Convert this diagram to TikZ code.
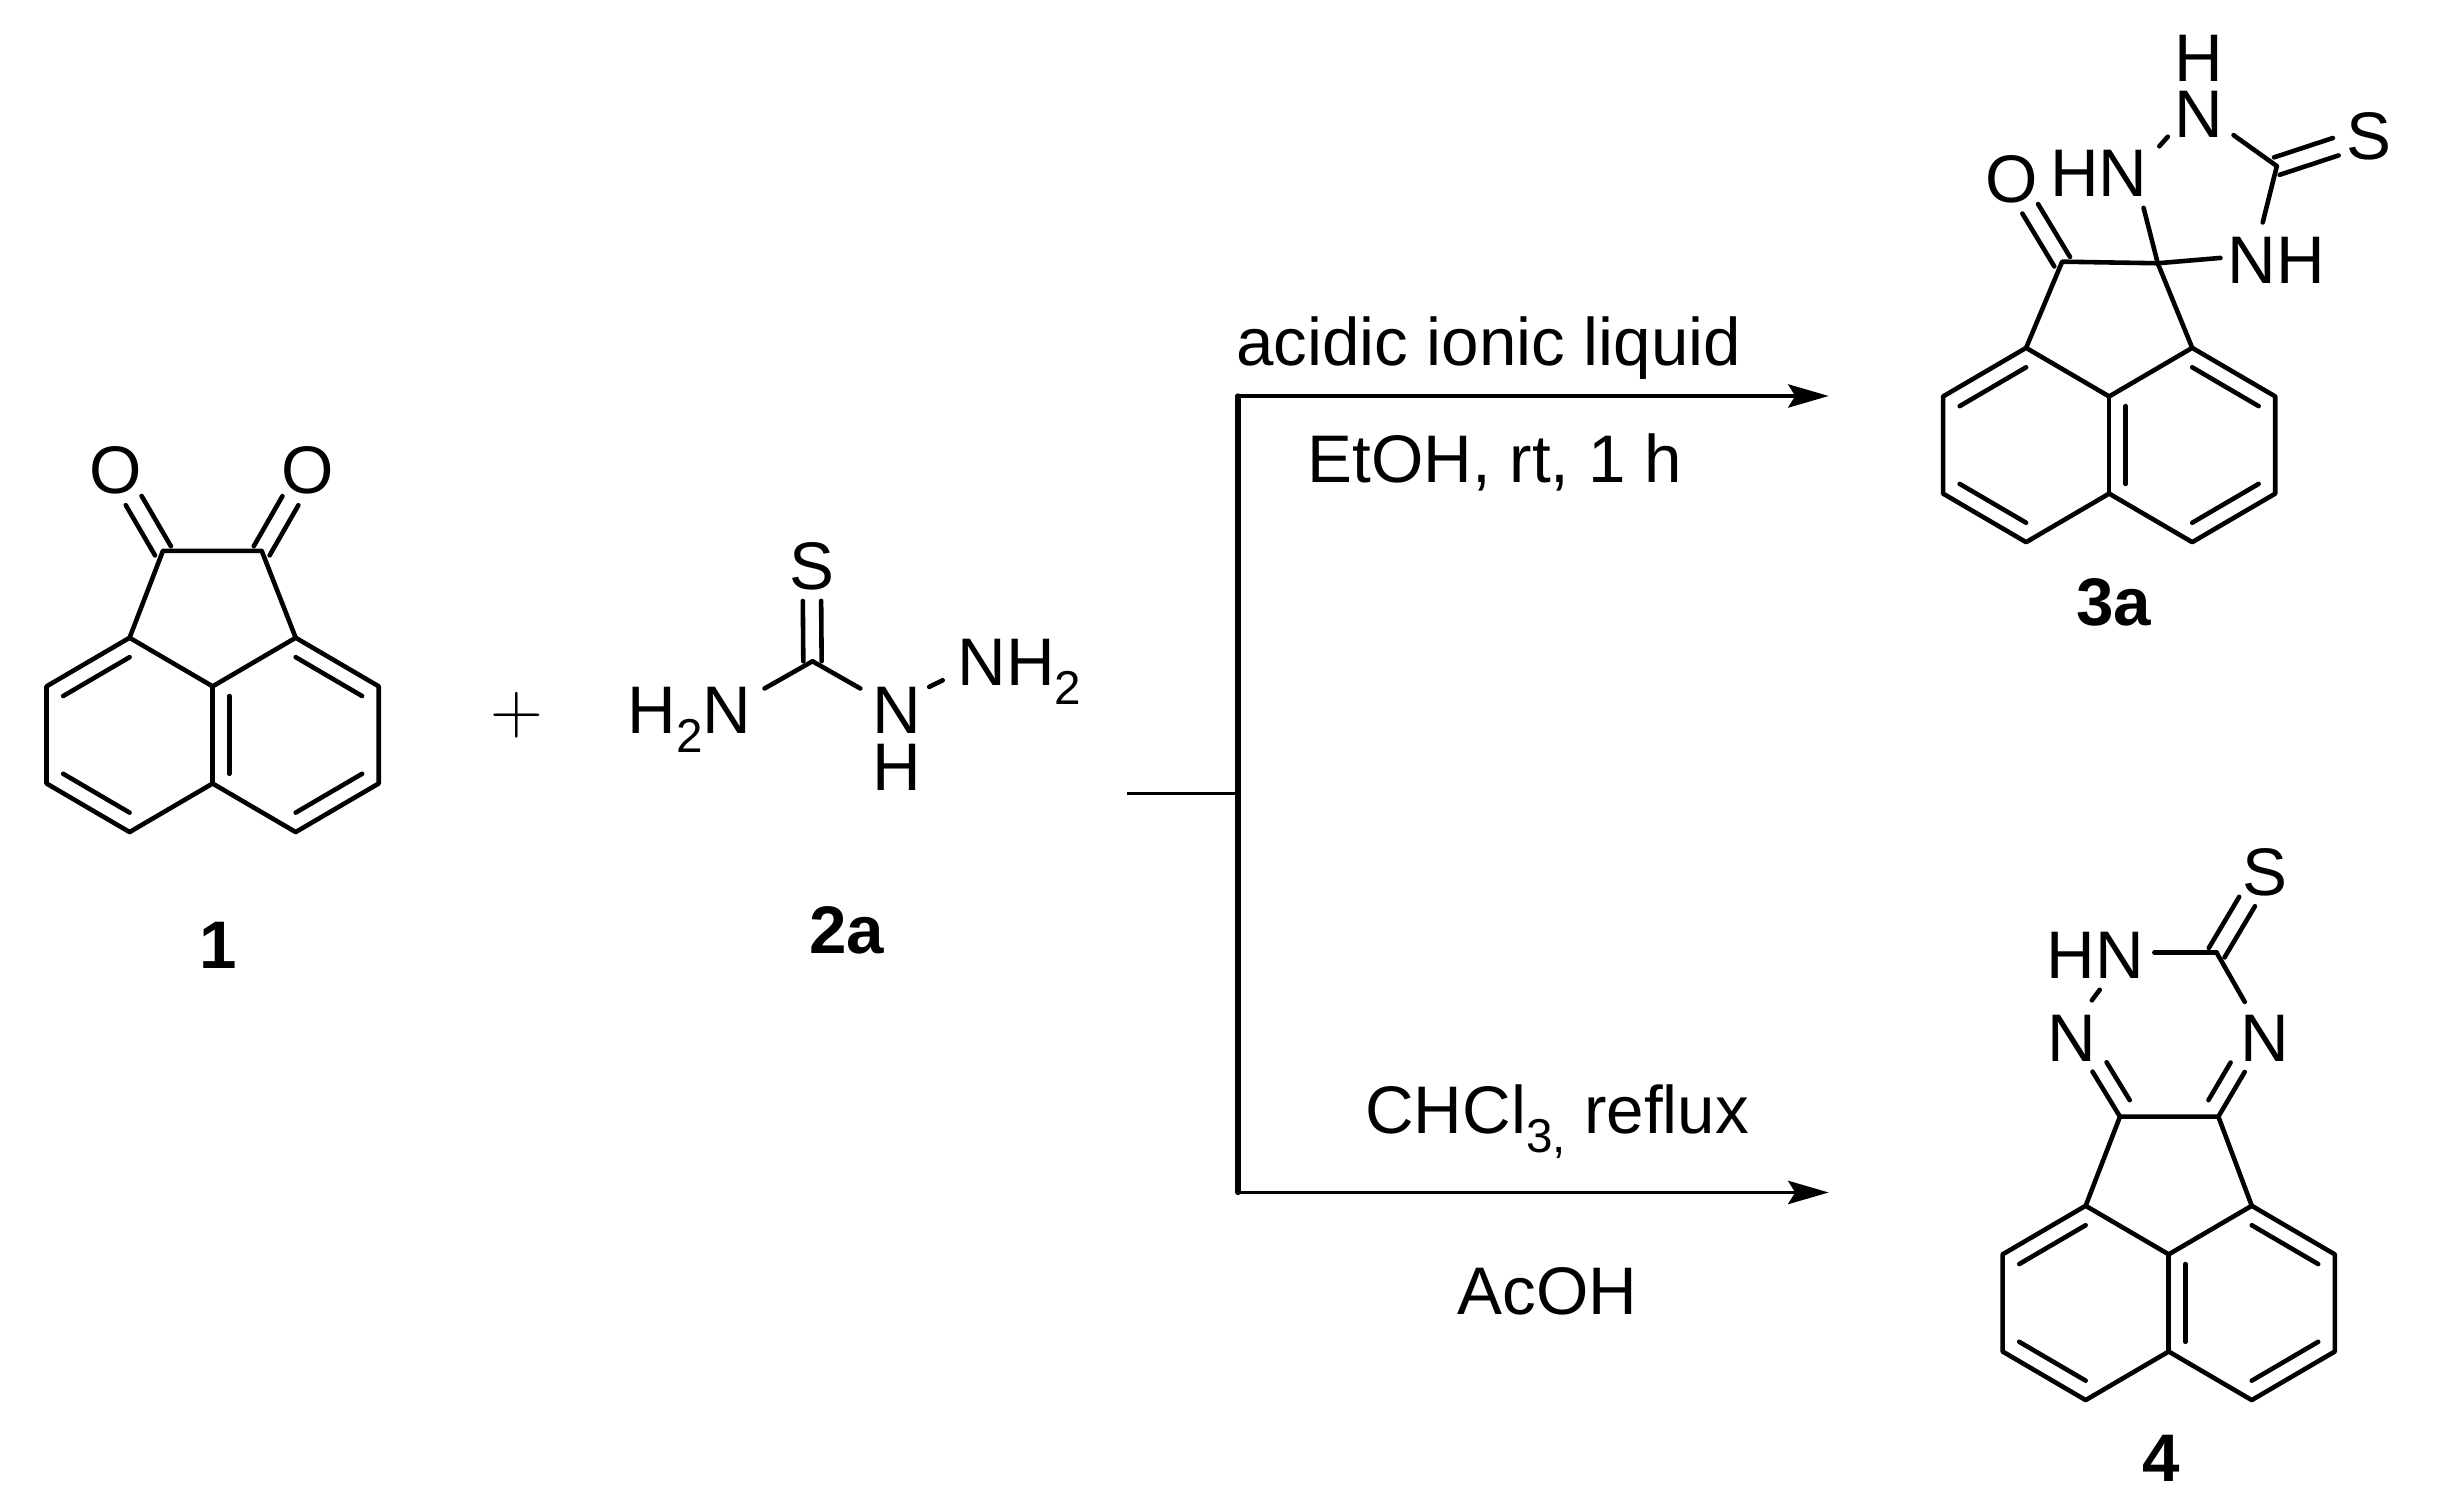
\documentclass[tikz,border=0pt]{standalone}
\usepackage{fontspec}
\setmainfont{Liberation Sans}
\usetikzlibrary{calc,arrows.meta}
\newcommand{\subs}[1]{\raisebox{-.28em}{\fontsize{13.5}{13.5}\selectfont #1}}
\newcommand{\dbond}[2]{%
  \draw[bond,shorten >=10pt] ($(#1)!2.6pt!90:(#2)$) -- ($(#2)!2.6pt!-90:(#1)$);
  \draw[bond,shorten >=10pt] ($(#1)!2.6pt!-90:(#2)$) -- ($(#2)!2.6pt!90:(#1)$);
}
\newcommand{\skeleton}[3]{%
  \begin{scope}[shift={(#2,#3)},name prefix=#1-]
    \coordinate (it) at (0,-31);
    \coordinate (ib) at (0,31);
    \coordinate (tl) at (-53,-62);
    \coordinate (tr) at (53,-62);
    \coordinate (bl) at (-53,62);
    \coordinate (br) at (53,62);
    \coordinate (lt) at (-106,-31);
    \coordinate (lb) at (-106,31);
    \coordinate (rt) at (106,-31);
    \coordinate (rb) at (106,31);
    \coordinate (lc) at (-53,0);
    \coordinate (rc) at (53,0);
    \draw[bond] (tl) -- (lt) -- (lb) -- (bl) -- (ib) -- (br) -- (rb) -- (rt) -- (tr) -- (it) -- cycle;
    \draw[bond] (it) -- (ib);
    \foreach \a/\b/\c in {lt/tl/lc,lb/bl/lc,tr/rt/rc,rb/br/rc,it/ib/rc}{
      \draw[bond] ($(\a)!0.2!(\c)$) -- ($(\b)!0.2!(\c)$);
    }
  \end{scope}
}
\begin{document}
\begin{tikzpicture}[
    x=0.015625cm,y=-0.015625cm,
    bond/.style={line width=1.3pt,line cap=round,line join=round},
    atom/.style={inner sep=0pt,text height=13.5pt,text depth=0pt,font=\fontsize{19.1}{20}\selectfont},
    cmpd/.style={atom,font=\fontsize{19.1}{20}\selectfont\bfseries},
    cond/.style={inner sep=0pt,anchor=base,font=\fontsize{19.1}{20}\selectfont},
    flow/.style={line width=1.05pt},
    branch/.style={line width=1.5pt,line cap=round},
  ]
  \useasboundingbox (0,0) rectangle (1568,961);

  \skeleton{p}{135.7}{469}
  \coordinate (p-ca) at (104,351.5);
  \coordinate (p-cb) at (167,351.5);
  \node[atom] (p-oa) at (74,300) {O};
  \node[atom] (p-ob) at (196.5,300) {O};
  \draw[bond] (p-tl) -- (p-ca) -- (p-cb) -- (p-tr);
  \dbond{p-ca}{p-oa}
  \dbond{p-cb}{p-ob}
  \node[cmpd] (p-name) at (139,603) {1};

  \node[atom,font=\fontsize{20.74}{21}\selectfont] (plus) at (330,453) {$+$};

  \coordinate (t-c) at (518.5,422);
  \node[atom] (t-s) at (518,361) {S};
  \node[atom] (t-hn) at (440,453) {H\subs{2}N};
  \node[atom] (t-n) at (572,453) {N};
  \node[atom] (t-h) at (572,489) {H};
  \node[atom] (t-nh) at (650.5,422.5) {NH\subs{2}};
  \dbond{t-c}{t-s}
  \draw[bond] (t-c) -- ($(t-hn.north east)+(8,2)$);
  \draw[bond] (t-c) -- ($(t-n.north west)+(-7,2)$);
  \draw[bond] ($(t-n.north east)+(5,1)$) -- ($(t-nh.south west)+(-9,-4)$);
  \node[cmpd] (t-name) at (540.5,593) {2a};

  \coordinate (stub) at (719.3,506.4);
  \coordinate (fork) at (790,506.4);
  \coordinate (up) at (790,252.7);
  \coordinate (down) at (790,761);
  \coordinate (upend) at (1167,252.7);
  \coordinate (downend) at (1167,761);
  \draw[flow] (stub) -- (fork);
  \draw[branch] (up) -- (down);
  \foreach \i/\j in {up/upend,down/downend}{
    \draw[flow,-{Stealth[length=11.5pt,width=6.6pt,inset=2pt]}] (\i) -- (\j);
  }
  \node[cond] (acid) at (950,233.3) {acidic ionic liquid};
  \node[cond] (etoh) at (954,308) {EtOH, rt, 1 h};
  \node[cond] (chcl) at (993.7,723.4) {CHCl\subs{3,} reflux};
  \node[cond] (acoh) at (987.5,838.6) {AcOH};

  \skeleton{a}{1346}{284}
  \coordinate (a-co) at (1316,167);
  \coordinate (a-sp) at (1377,168);
  \coordinate (a-cs) at (1453,106);
  \node[atom] (a-o) at (1284,114) {O};
  \node[atom] (a-hn) at (1339.5,110) {HN};
  \node[atom] (a-n) at (1403.4,72.6) {N};
  \node[atom] (a-h) at (1403.4,36.8) {H};
  \node[atom] (a-s) at (1512,86.6) {S};
  \node[atom] (a-nh) at (1452.5,165.6) {NH};
  \draw[bond] (a-tl) -- (a-co) -- (a-sp) -- (a-tr);
  \dbond{a-co}{a-o}
  \dbond{a-cs}{a-s}
  \draw[bond] (a-sp) -- ($(a-nh.west)+(-4,-1)$);
  \draw[bond] (a-sp) -- ($(a-hn.south east)+(-3,7)$);
  \draw[bond] ($(a-hn.north east)+(7,-1)$) -- ($(a-n.south west)+(-4,-1)$);
  \draw[bond] ($(a-n.south east)+(6,-2)$) -- (a-cs);
  \draw[bond] (a-cs) -- ($(a-nh.north)+(-8.5,-8)$);
  \node[cmpd] (a-name) at (1349,384) {3a};

  \skeleton{b}{1384}{831.5}
  \coordinate (b-ca) at (1352.9,712.6);
  \coordinate (b-cb) at (1415.7,712.6);
  \coordinate (b-cs) at (1414.6,608);
  \coordinate (b-rc) at (1384,660);
  \node[atom] (b-s) at (1445.5,556) {S};
  \node[atom] (b-hn) at (1337,609) {HN};
  \node[atom] (b-na) at (1322,662) {N};
  \node[atom] (b-nb) at (1445.5,662) {N};
  \draw[bond] (b-tl) -- (b-ca) -- (b-cb) -- (b-tr);
  \dbond{b-cs}{b-s}
  \draw[bond] ($(b-na.north east)+(-3,-8)$) -- ($(b-hn.south)+(3,7)$);
  \draw[bond] ($(b-hn.east)+(6.4,-1)$) -- (b-cs);
  \draw[bond] (b-cs) -- ($(b-nb.north west)+(3,-7)$);
  \foreach \i/\j in {b-ca/b-na,b-cb/b-nb}{
    \draw[bond,shorten >=11.4pt] (\i) -- (\j.center);
    \draw[bond,shorten >=8.5pt] ($(\i)!0.2!(b-rc)$) -- ($(\j.center)!0.2!(b-rc)$);
  }
  \node[cmpd] (b-name) at (1379,930) {4};
\end{tikzpicture}
\end{document}
